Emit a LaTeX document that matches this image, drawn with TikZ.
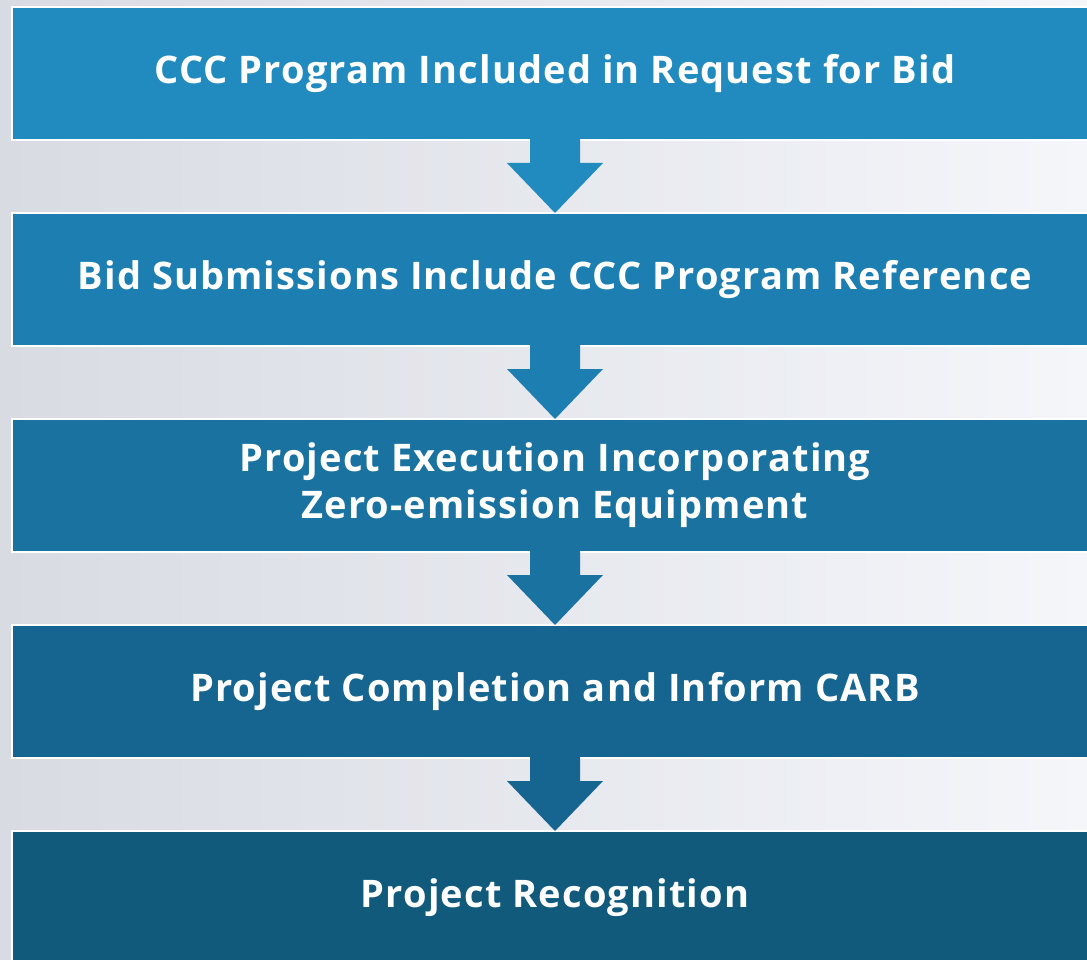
\documentclass[tikz,border=0pt]{standalone}
\usepackage{fontspec}
\setmainfont{Open Sans}[LetterSpace=3]
\usetikzlibrary{positioning}
\definecolor{stageA}{HTML}{218BBF}
\definecolor{stageB}{HTML}{1D7FB1}
\definecolor{stageC}{HTML}{1A72A0}
\definecolor{stageD}{HTML}{166590}
\definecolor{stageE}{HTML}{115A7C}
\definecolor{bgL}{HTML}{D8DBE2}
\definecolor{bgM}{HTML}{EDEFF4}
\definecolor{bgR}{HTML}{F4F6FA}
\newcommand{\flowarrow}[3]{%
  \fill[#3] ([xshift=-25pt,yshift=2pt]#1.south) -- ([xshift=-25pt,yshift=-23pt]#1.south)
    -- ([xshift=-48pt,yshift=-23pt]#1.south) -- (#2.north)
    -- ([xshift=48pt,yshift=-23pt]#1.south) -- ([xshift=25pt,yshift=-23pt]#1.south)
    -- ([xshift=25pt,yshift=2pt]#1.south) -- cycle;}

\begin{document}
\begin{tikzpicture}[x=1pt,y=1pt,node distance=206pt,
  stage/.style={rectangle,draw=white,line width=2pt,outer sep=0pt,inner sep=0pt,
    minimum width=1086pt,minimum height=133pt,text=white,align=center,
    font=\bfseries\fontsize{38}{47}\selectfont}]
  \useasboundingbox (0,0) rectangle (1087,-960);
  \shade[left color=bgL,middle color=bgM,right color=bgR] (0,0) rectangle (1087,-960);
  \clip (0,0) rectangle (1087,-960);
  % the five stages
  \node[stage,fill=stageA] (request) at (555,-73.5) {CCC Program Included in Request for Bid};
  \node[stage,fill=stageB] (bids) [below of=request] {Bid Submissions Include CCC Program Reference};
  \node[stage,fill=stageC] (execution) [below of=bids] {Project Execution Incorporating\\ Zero-emission Equipment};
  \node[stage,fill=stageD] (completion) [below of=execution] {Project Completion and Inform CARB};
  \node[stage,fill=stageE] (recognition) [below of=completion] {Project Recognition};
  % block arrows
  \flowarrow{request}{bids}{stageA}
  \flowarrow{bids}{execution}{stageB}
  \flowarrow{execution}{completion}{stageC}
  \flowarrow{completion}{recognition}{stageD}
\end{tikzpicture}
\end{document}
